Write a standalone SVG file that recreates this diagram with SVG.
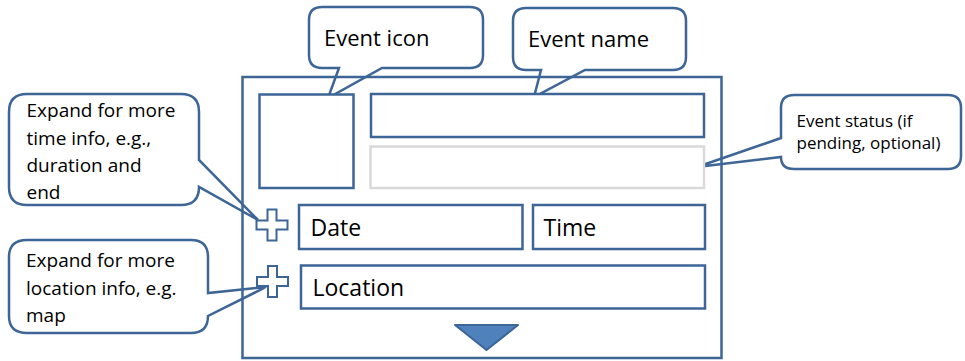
<svg xmlns="http://www.w3.org/2000/svg" width="965" height="361" viewBox="0 0 965 361">
  <style>
    .ln { fill: #ffffff; stroke: #3d6596; stroke-width: 2.5; stroke-linejoin: miter; }
    .frame { fill: none; stroke: #3d6596; stroke-width: 2.5; }
    .field { fill: #ffffff; stroke: #3d6596; stroke-width: 2.5; }
    .ghost { fill: #ffffff; stroke: #d9d9d9; stroke-width: 2.5; }
    .plus { fill: #ffffff; stroke: #3d6596; stroke-width: 2; }
    .tri { fill: #4f81bd; stroke: #3d6596; stroke-width: 2; stroke-linejoin: round; }
    text { font-family: "Open Sans", "Liberation Sans", sans-serif; fill: #000000; }
    .t22 { font-size: 22px; }
    .t23 { font-size: 23px; }
    .t19 { font-size: 19px; }
    .t17 { font-size: 17px; }
  </style>
  <defs>
    <path id="plusShape" d="M-4.5,-15.5 H4.5 V-4.5 H15.5 V4.5 H4.5 V15.5 H-4.5 V4.5 H-15.5 V-4.5 H-4.5 Z"/>
  </defs>
  <rect width="965" height="361" fill="#ffffff"/>

  <g id="connectors">
    <!-- callout tails are part of the callout shapes -->
  </g>

  <g id="callout-icon">
    <path class="ln" d="M322,7 H470 Q483,7 483,20 V55 Q483,68 470,68 H382 L328,98 L339,68 H322 Q309,68 309,55 V20 Q309,7 322,7 Z"/>
    <text class="t22" x="324" y="46">Event icon</text>
  </g>
  <g id="callout-name">
    <path class="ln" d="M526,8 H673 Q686,8 686,21 V57 Q686,70 673,70 H585 L534,97 L541,70 H526 Q513,70 513,57 V21 Q513,8 526,8 Z"/>
    <text class="t22" x="528" y="47">Event name</text>
  </g>
  <g id="callout-status">
    <path class="ln" d="M794,95 H948 Q961,95 961,108 V156 Q961,169 948,169 H794 Q781,169 781,157 L697,167 L781,138 V108 Q781,95 794,95 Z"/>
    <text class="t17" x="796.5" y="127">Event status (if</text>
    <text class="t17" x="796.5" y="148.5">pending, optional)</text>
  </g>
  <g id="callout-time">
    <path class="ln" d="M27,94 H181 Q199,94 199,112 V160 L258,220 L199,187 Q199,205 181,205 H27 Q9,205 9,187 V112 Q9,94 27,94 Z"/>
    <text class="t19" x="26.5" y="117">Expand for more</text>
    <text class="t19" x="26.5" y="144.5">time info, e.g.,</text>
    <text class="t19" x="26.5" y="171.5">duration and</text>
    <text class="t19" x="26.5" y="198.5">end</text>
  </g>
  <g id="callout-location">
    <path class="ln" d="M27,240 H191 Q208,240 208,257 V293 L266,287 L208,316 Q208,333 191,333 H27 Q9,333 9,316 V257 Q9,240 27,240 Z"/>
    <text class="t19" x="26" y="267">Expand for more</text>
    <text class="t19" x="26" y="295">location info, e.g.</text>
    <text class="t19" x="26" y="322">map</text>
  </g>

  <g id="frame">
    <rect class="frame" x="242.5" y="77" width="479" height="281"/>
  </g>
  <g id="icon-box">
    <rect class="field" x="259.5" y="94.5" width="94" height="93.5"/>
  </g>
  <g id="name-field">
    <rect class="field" x="371" y="94" width="333" height="43"/>
  </g>
  <g id="status-field">
    <rect class="ghost" x="370.5" y="146.5" width="333.5" height="41.5"/>
  </g>
  <g id="date-field">
    <rect class="field" x="299" y="205" width="223.5" height="44"/>
    <text class="t23" x="310.5" y="236">Date</text>
  </g>
  <g id="time-field">
    <rect class="field" x="533" y="205" width="172" height="44"/>
    <text class="t23" x="543.5" y="236">Time</text>
  </g>
  <g id="location-field">
    <rect class="field" x="301" y="265.5" width="404" height="43"/>
    <text class="t23" x="312.5" y="296">Location</text>
  </g>
  <g id="plus-time">
    <use href="#plusShape" class="plus" transform="translate(272,225)"/>
  </g>
  <g id="plus-location">
    <use href="#plusShape" class="plus" transform="translate(272.5,281.5)"/>
  </g>
  <g id="expand-arrow">
    <path class="tri" d="M455,325 H518 L486.5,350 Z"/>
  </g>
</svg>
